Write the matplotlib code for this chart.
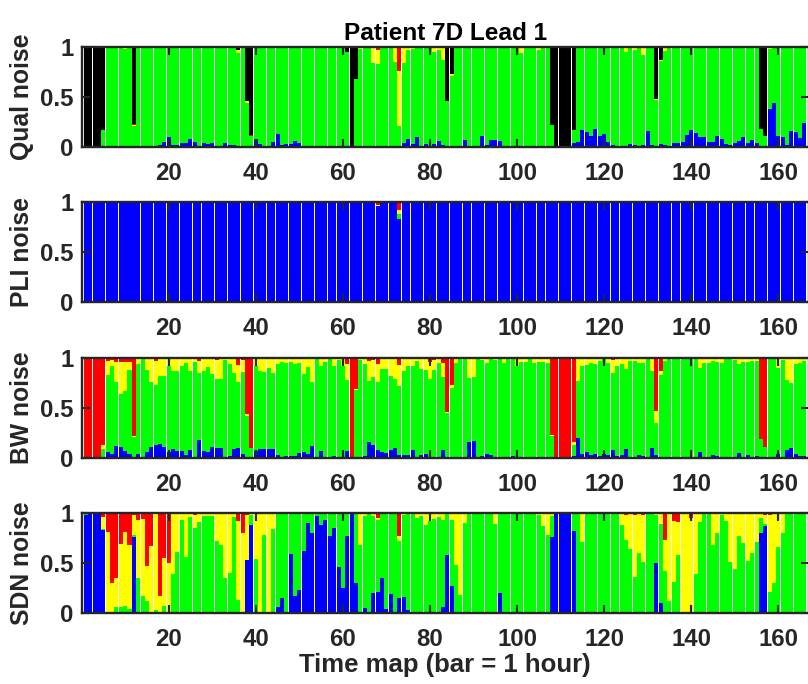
import numpy as np
import matplotlib
matplotlib.use("Agg")
import matplotlib.pyplot as plt

plt.rcParams['font.family'] = ['Liberation Sans', 'DejaVu Sans']
plt.rcParams['font.weight'] = 'bold'

n_bars = 166
hours = np.arange(1, n_bars + 1)
xticks = [20, 40, 60, 80, 100, 120, 140, 160]

# colours of the classes, bottom to top
c_blue, c_green, c_yellow, c_red, c_black = '#0000ff', '#00ff00', '#ffff00', '#ff0000', '#000000'

# ---- Qual noise (green = rest) ----
qual_blue = [
    0, 0, 0, 0, 0, 0, 0, 0, .01, 0,
    0, 0, 0, 0, 0, 0, 0, .02, .05, .10,
    .02, .02, .04, .04, .08, .05, .01, .04, .03, .04,
    0, .01, .04, .02, .02, 0, .01, 0, 0, .08,
    .03, 0, 0, .05, .13, .02, .03, .03, .06, .04,
    .005, .005, .005, .005, .005, .005, .005, 0, 0, 0,
    0, 0, 0, 0, 0, 0, 0, 0, 0, .01,
    0, 0, 0, .04, .08, .03, .10, .01, .03, .01,
    .03, .06, .02, .01, 0, .01, 0, .07, 0, 0,
    0, .11, .02, .07, .07, .06, .01, 0, 0, 0,
    0, 0, 0, 0, 0, .01, 0, 0, 0, 0,
    0, 0, .04, .05, .17, .15, .11, .18, .11, .13,
    .05, .02, 0, 0, 0, .03, .02, 0, .02, .16,
    .02, 0, .03, .02, .01, .04, .04, .05, .12, .17,
    .14, .10, .10, .05, .05, .11, .08, .03, .02, .04,
    .06, .10, .04, .07, .04, .01, .01, .38, .44, .11,
    .10, .02, .16, .15, .09, .24]
qual_yellow = {10: .01, 12: .01, 27: .005, 36: .03, 38: .015, 64: .015, 65: .01,
               67: .15, 68: .14, 72: .15, 73: .55, 74: .16, 75: .03, 76: .02,
               77: .01, 81: .05, 82: .03, 83: .13, 85: .02, 101: .06, 105: .03,
               125: .05, 127: .03, 129: .08, 132: .01, 133: .01, 134: .04,
               158: .015, 159: .01}
qual_red = {10: .005, 12: .01, 27: .005, 39: .01, 67: .01, 68: .03, 73: .24}
qual_black = {1: 1, 2: 1, 3: 1, 4: 1, 5: .83, 12: .77, 36: .03, 38: .54, 39: .88,
              61: .05, 62: 1, 63: .32, 84: .54, 85: .27, 108: .78, 109: 1,
              110: 1, 111: 1, 112: 1, 113: .83, 132: .52, 133: .13, 156: .82,
              157: .89}

# ---- PLI noise (blue = rest) ----
pli_green = {73: .05}
pli_yellow = {68: .013, 73: .04}
pli_red = {68: .027, 73: .077}

# ---- BW noise (green = rest) ----
bw_blue = [
    0, 0, 0, 0, 0, .06, .04, .12, .11, .07,
    .04, 0, .04, 0, .06, .11, .13, .14, .11, .06,
    .09, .07, .07, .03, .08, .01, .18, .07, .06, .11,
    .10, .10, .01, .02, .09, .10, .04, 0, 0, .07,
    .09, .09, .09, .09, .03, 0, .02, .02, .02, .05,
    .06, .04, .12, 0, .07, 0, 0, .02, 0, 0,
    .07, 0, 0, 0, .02, .16, .13, .08, .06, .05,
    .08, .10, .03, .03, .03, .08, 0, .03, .04, 0,
    .01, 0, .08, 0, 0, .01, 0, 0, .16, .17,
    0, .02, .04, .03, 0, .01, .01, 0, .02, 0,
    0, 0, 0, 0, 0, 0, 0, 0, 0, 0,
    0, 0, .02, .20, .04, .06, .03, .04, .02, .04,
    .03, .08, .02, .03, .09, 0, 0, .03, .02, 0,
    .10, .03, 0, 0, 0, 0, 0, 0, 0, 0,
    0, .06, .01, .01, .03, .02, .01, 0, 0, .01,
    .05, 0, .03, 0, .02, 0, 0, 0, 0, .04,
    0, .08, .10, .04, .02, .02]
bw_yellow = [
    0, 0, 0, 0, .04, .14, .06, .20, .32, .29,
    .08, .01, .06, .01, .12, .23, .24, .18, .18, .08,
    .13, .13, .08, .05, .13, .04, .12, .13, .09, .15,
    .19, .20, .02, .06, .15, .17, .12, .02, 0, .08,
    .13, .14, .10, .15, .06, .04, .05, .04, .06, .05,
    .16, .09, .23, .01, .08, .04, .01, .08, .02, .08,
    .16, 0, .01, .02, .06, .20, .17, .18, .11, .11,
    .18, .21, .21, .13, .08, .08, .03, .11, .12, .17,
    .10, .05, .14, .01, .03, .05, .01, .01, .20, .19,
    .01, .02, .05, .01, .02, .01, .05, .01, .01, .08,
    .04, .04, .01, .05, .04, .04, .05, .01, 0, 0,
    0, 0, .03, .23, .08, .07, .05, .06, .03, .01,
    .05, .13, .08, .06, .11, .03, .03, .05, .05, .01,
    .13, .12, .04, .03, .01, .01, .01, .01, .01, .01,
    .01, .10, .05, .05, .03, .04, .05, .01, .01, .02,
    .06, .04, .04, .03, .03, 0, 0, .01, .01, .10,
    .02, .22, .25, .06, .05, .03]
bw_red = {1: 1, 2: 1, 3: 1, 4: 1, 5: .87, 6: .03, 7: .02, 8: .04, 9: .04, 10: .04,
          11: .04, 12: .78, 16: .01, 17: .03, 27: .03, 30: .01, 31: .02, 32: .01,
          36: .07, 37: .02, 38: .56, 39: .90, 53: .01, 61: .06, 62: 1, 63: .31,
          66: .03, 67: .02, 68: .06, 73: .07, 80: .04, 81: .02, 83: .05, 84: .54,
          85: .27, 108: .77, 109: 1, 110: 1, 111: 1, 112: 1, 113: .84, 122: .02,
          132: .53, 133: .13, 156: .81, 157: .89}

# ---- SDN noise (green = rest) ----
sdn_blue = [
    .98, 1, 1, 1, .83, 0, 0, 0, 0, 0,
    0, .76, 0, 0, 0, 0, 0, 0, 0, 0,
    0, 0, 0, 0, 0, 0, 0, 0, 0, 0,
    0, 0, 0, 0, 0, 0, 0, .53, .88, 0,
    0, 0, 0, 0, .06, .15, .01, .59, .17, .23,
    .62, .90, .80, .97, .88, .93, .77, .85, .46, .25,
    .77, .99, .30, 0, .05, 0, .20, .21, .35, .04,
    .19, 0, .15, .16, .03, 0, 0, 0, 0, 0,
    0, 0, .06, .58, .27, 0, 0, 0, 0, 0,
    0, 0, 0, 0, 0, .20, 0, 0, 0, 0,
    0, 0, 0, 0, 0, 0, 0, .76, 1, 1,
    1, 1, .82, 0, 0, 0, 0, 0, 0, 0,
    0, 0, 0, 0, 0, 0, 0, 0, 0, 0,
    0, .50, .10, 0, 0, 0, 0, 0, 0, 0,
    0, 0, 0, 0, 0, 0, 0, 0, 0, 0,
    0, 0, 0, 0, 0, .80, .87, 0, 0, 0,
    0, 0, 0, 0, 0, 0]
sdn_yellow = [
    0, 0, 0, 0, .12, .815, .30, .29, .63, .74,
    .64, .20, .58, .77, .35, .67, .97, .17, .48, .50,
    .61, .39, .07, .44, .04, .13, .08, .03, .03, .03,
    .28, .32, .65, .60, .04, .79, .80, .45, .02, .455,
    1, .22, 1, .16, 0, 0, 0, 0, 0, 0,
    0, 0, 0, 0, 0, 0, 0, 0, 0, 0,
    0, 0, 0, .32, .03, .01, .02, .02, 0, 0,
    0, 0, .05, .02, 0, 0, .05, .03, .12, .08,
    .06, .04, .07, 0, .07, .52, .815, .10, 0, 0,
    0, 0, 0, 0, .11, 0, 0, 0, 0, 0,
    0, 0, 0, 0, .02, .13, .22, .03, 0, 0,
    0, 0, 0, 0, .29, 0, 0, 0, 0, 0,
    0, 0, 0, .12, .25, .36, .62, .40, .47, 0,
    0, .02, .11, .31, .875, .617, .33, 1, 1, .95,
    .613, .09, 0, 0, .32, .20, .02, .08, .49, .56,
    .23, .30, .48, .40, .29, .05, .09, .765, .704, .34,
    .20, 0, 0, 0, 0, 0]
sdn_red = {5: .04, 6: .185, 7: .70, 8: .65, 9: .31, 10: .19, 11: .32, 12: .02,
           13: .07, 14: .06, 15: .53, 16: .33, 18: .83, 19: .45, 20: .50, 26: .02,
           27: .01, 36: .075, 37: .20, 38: .02, 67: .01, 68: .05, 73: .23,
           125: .02, 127: .02, 129: .02, 134: .27, 136: .077, 137: .09, 140: .05,
           157: .02, 158: .02}


def full(d):
    a = np.zeros(n_bars)
    for k, v in d.items():
        a[k - 1] = v
    return a


def rest(*parts):
    return np.clip(1 - sum(np.asarray(p, float) for p in parts), 0, 1)


qb, qy, qr, qk = np.array(qual_blue), full(qual_yellow), full(qual_red), full(qual_black)
pg, py, pr = full(pli_green), full(pli_yellow), full(pli_red)
bb, by, br = np.array(bw_blue), np.array(bw_yellow), full(bw_red)
sb, sy, sr = np.array(sdn_blue), np.array(sdn_yellow), full(sdn_red)

panels = [
    ("Qual noise", [(qb, c_blue), (rest(qb, qy, qr, qk), c_green), (qy, c_yellow),
                    (qr, c_red), (qk, c_black)]),
    ("PLI noise", [(rest(pg, py, pr), c_blue), (pg, c_green), (py, c_yellow), (pr, c_red)]),
    ("BW noise", [(bb, c_blue), (rest(bb, by, br), c_green), (by, c_yellow), (br, c_red)]),
    ("SDN noise", [(sb, c_blue), (rest(sb, sy, sr), c_green), (sy, c_yellow), (sr, c_red)]),
]

fig = plt.figure(figsize=(8.08, 6.84), dpi=100)
W, H = 808, 684
tops = [47, 202, 358, 513]
txt = '#262626'

for (name, layers), top in zip(panels, tops):
    ax = fig.add_axes([81.6 / W, (H - top - 100) / H, 727.2 / W, 100 / H])
    bottom = np.zeros(n_bars)
    for vals, col in layers:
        ax.bar(hours, vals, bottom=bottom, width=0.92, color=col,
               linewidth=0, antialiased=False)
        bottom = bottom + vals
    ax.set_xlim(0, 167)
    ax.set_ylim(0, 1)
    ax.set_xticks(xticks)
    ax.set_yticks([0, 0.5, 1])
    ax.set_yticklabels(['0', '0.5', '1'])
    ax.tick_params(direction='in', top=True, right=True, length=6, width=1.5,
                   colors=txt, labelsize=17.3)
    ax.tick_params(axis='x', pad=11)
    ax.tick_params(axis='y', pad=6)
    for lab in ax.get_xticklabels() + ax.get_yticklabels():
        lab.set_fontweight('bold')
    for sp in ax.spines.values():
        sp.set_linewidth(1.7)
        sp.set_color(txt)
    ax.set_ylabel(name, fontsize=17.8, fontweight='bold', color=txt)
    ax.yaxis.set_label_coords(-0.066, 0.5)
    if top == tops[0]:
        ax.set_title("Patient 7D Lead 1", fontsize=17.6, fontweight='bold',
                     color='#000000', pad=5)
    if top == tops[-1]:
        ax.set_xlabel("Time map (bar = 1 hour)", fontsize=18.5,
                      fontweight='bold', color=txt, labelpad=1)

fig.savefig("out.png", dpi=100)
